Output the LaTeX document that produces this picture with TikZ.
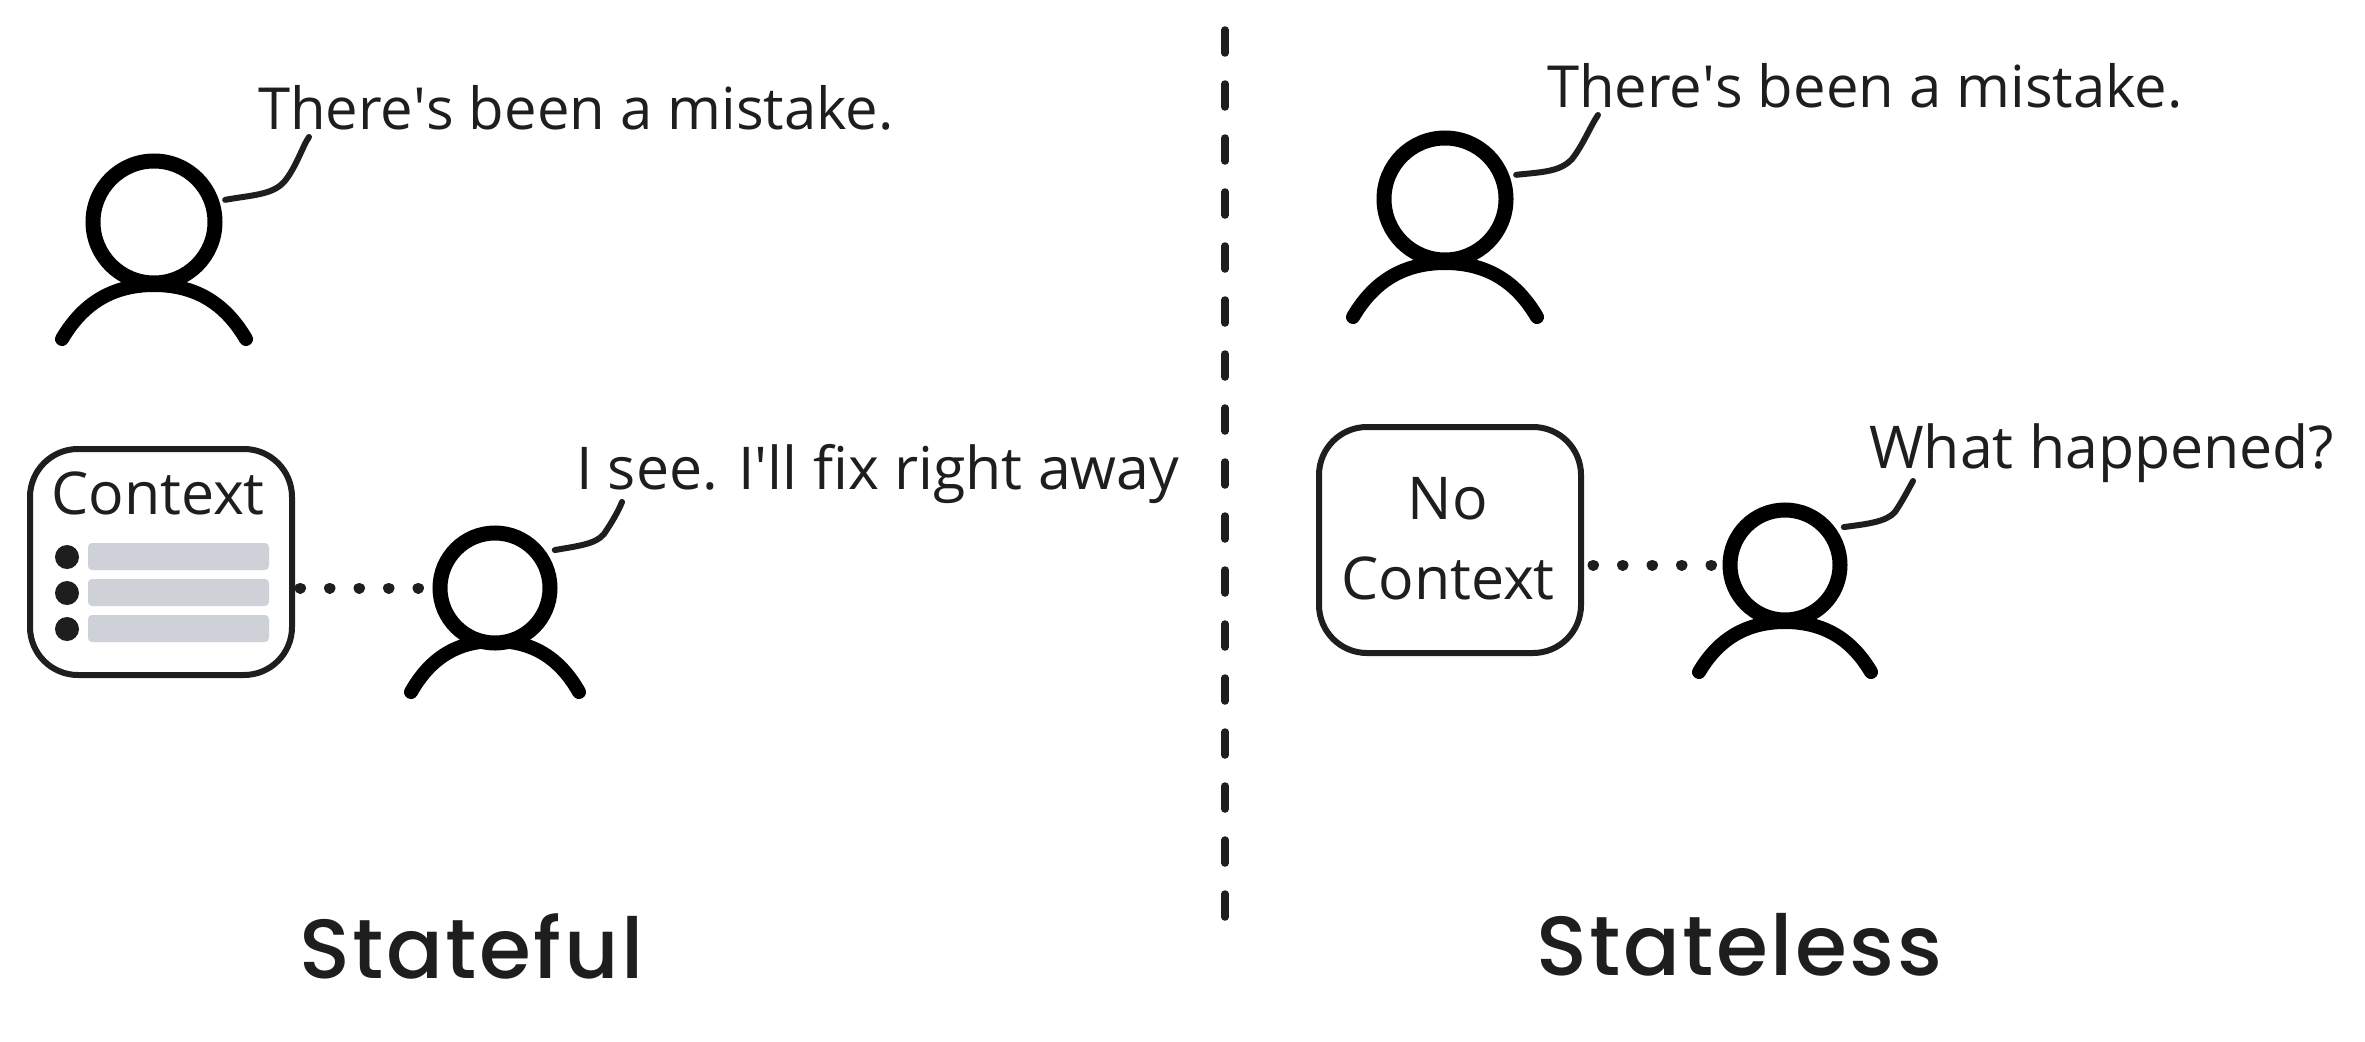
\documentclass[tikz,border=0pt]{standalone}
\usepackage{fontspec}
\setmainfont{Open Sans}
\newfontfamily\handfont{Poppins}[BoldFont={Poppins Medium},LetterSpace=3]
\usetikzlibrary{calc}
\definecolor{ink}{HTML}{1E1E1E}
\definecolor{barfill}{HTML}{CED2D8}
\tikzset{
  x=1pt,y=-1pt,
  speech/.style={anchor=base west,inner sep=0pt,text=ink,font=\fontsize{59}{70}\selectfont},
  speechlong/.style={speech,font=\fontsize{58}{70}\selectfont},
  boxlabel/.style={anchor=base,inner sep=0pt,text=ink,font=\fontsize{59}{70}\selectfont},
  hand/.style={anchor=base west,inner sep=0pt,text=ink,font=\handfont\bfseries\fontsize{84}{90}\selectfont},
  headbig/.style={circle,draw=black,fill=white,line width=15pt,minimum size=122pt,inner sep=0pt},
  headsmall/.style={circle,draw=black,fill=white,line width=15pt,minimum size=110pt,inner sep=0pt},
  bodyline/.style={draw=black,line width=14pt,line cap=round},
  callout/.style={draw=ink,line width=6pt,line cap=round},
  ctxbox/.style={draw=ink,line width=6pt,rounded corners=48pt,fill=white,inner sep=0pt},
  dotted link/.style={draw=ink,line width=11pt,line cap=round,dash pattern=on 0.5pt off 29pt},
  divider/.style={draw=ink,line width=7.5pt,line cap=round,dash pattern=on 23pt off 31pt},
  bar/.style={fill=barfill,rounded corners=4pt,inner sep=0pt},
  bullet/.style={circle,fill=ink,minimum size=24pt,inner sep=0pt},
}
\newcommand{\bodyof}[4]{% head, half width, peak dy, end dy
  \draw[bodyline] ($(#1)+(-#2,#4)$) .. controls ($(#1)+(-0.80*#2,#3+0.42*#4-0.42*#3)$) and ($(#1)+(-0.50*#2,#3)$) .. ($(#1)+(0,#3)$)
     .. controls ($(#1)+(0.50*#2,#3)$) and ($(#1)+(0.80*#2,#3+0.42*#4-0.42*#3)$) .. ($(#1)+(#2,#4)$);
}
\newcommand{\apo}{\textquotesingle}
\begin{document}
\begin{tikzpicture}
\useasboundingbox[fill=white] (0,0) rectangle (2365,1041);

% divider
\coordinate (divtop) at (1225,30);
\coordinate (divbot) at (1225,917);
\path[divider] (divtop) -- (divbot);

% Left: first person
\bodyof{154,222}{92}{63}{117}
\node[headbig] (p1) at (154,222) {};
\node[speechlong] (t1) at (258,129) {There\apo s been a mistake.};
\coordinate (c1) at (309,137);
\path[callout] ($(p1.18)+(6,-1)$) .. controls (252,195) and (272,195) .. (284,182) .. controls (296,168) and (303,145) .. (c1);

% Left: context box and second person
\node[ctxbox,minimum width=262pt,minimum height=226pt] (box1) at (161,562) {};
\node[boxlabel] (ctxlabel) at (158,514) {Context};
\node[bullet] (b1) at (67,557) {};
\node[bullet] (b2) at (67,593) {};
\node[bullet] (b3) at (67,629) {};
\node[bar,minimum width=181pt,minimum height=27pt] (r1) at (178.5,556.5) {};
\node[bar,minimum width=181pt,minimum height=27pt] (r2) at (178.5,592.5) {};
\node[bar,minimum width=181pt,minimum height=27pt] (r3) at (178.5,628.5) {};
\bodyof{495,588}{84}{53}{104}
\node[headsmall] (p2) at (495,588) {};
\node[speech] (t2) at (576,489) {I see. I\apo ll fix right away};
\coordinate (c2) at (622,502);
\path[callout] ($(p2.34)+(8,-3)$) .. controls (578,546) and (596,544) .. (604,534) .. controls (612,522) and (618,512) .. (c2);
\path[dotted link] ($(box1.east |- p2.west)+(5,0)$) -- ($(p2.west)+(-14,0)$);

% Right: first person
\bodyof{1445,199}{92}{64}{118}
\node[headbig] (p3) at (1445,199) {};
\node[speechlong] (t3) at (1547,107) {There\apo s been a mistake.};
\coordinate (c3) at (1598,115);
\path[callout] ($(p3.18)+(6,-3)$) .. controls (1542,172) and (1560,172) .. (1572,159) .. controls (1583,145) and (1591,125) .. (c3);

% Right: no-context box and second person
\node[ctxbox,minimum width=262pt,minimum height=226pt] (box2) at (1450,540) {};
\node[boxlabel] (nolabel) at (1448,519) {No};
\node[boxlabel] (nolabel2) at (1448,599) {Context};
\bodyof{1785,565}{86}{57}{107}
\node[headsmall] (p4) at (1785,565) {};
\node[speech] (t4) at (1869,468) {What happened?};
\coordinate (c4) at (1913,481);
\path[callout] ($(p4.34)+(7,-3)$) .. controls (1867,524) and (1886,522) .. (1895,512) .. controls (1903,500) and (1908,490) .. (c4);
\path[dotted link] ($(box2.east |- p4.west)+(9,0)$) -- ($(p4.west)+(-11,0)$);

% Titles
\node[hand] (stateful) at (299,978) {Stateful};
\node[hand] (stateless) at (1536,975) {Stateless};
\end{tikzpicture}
\end{document}
